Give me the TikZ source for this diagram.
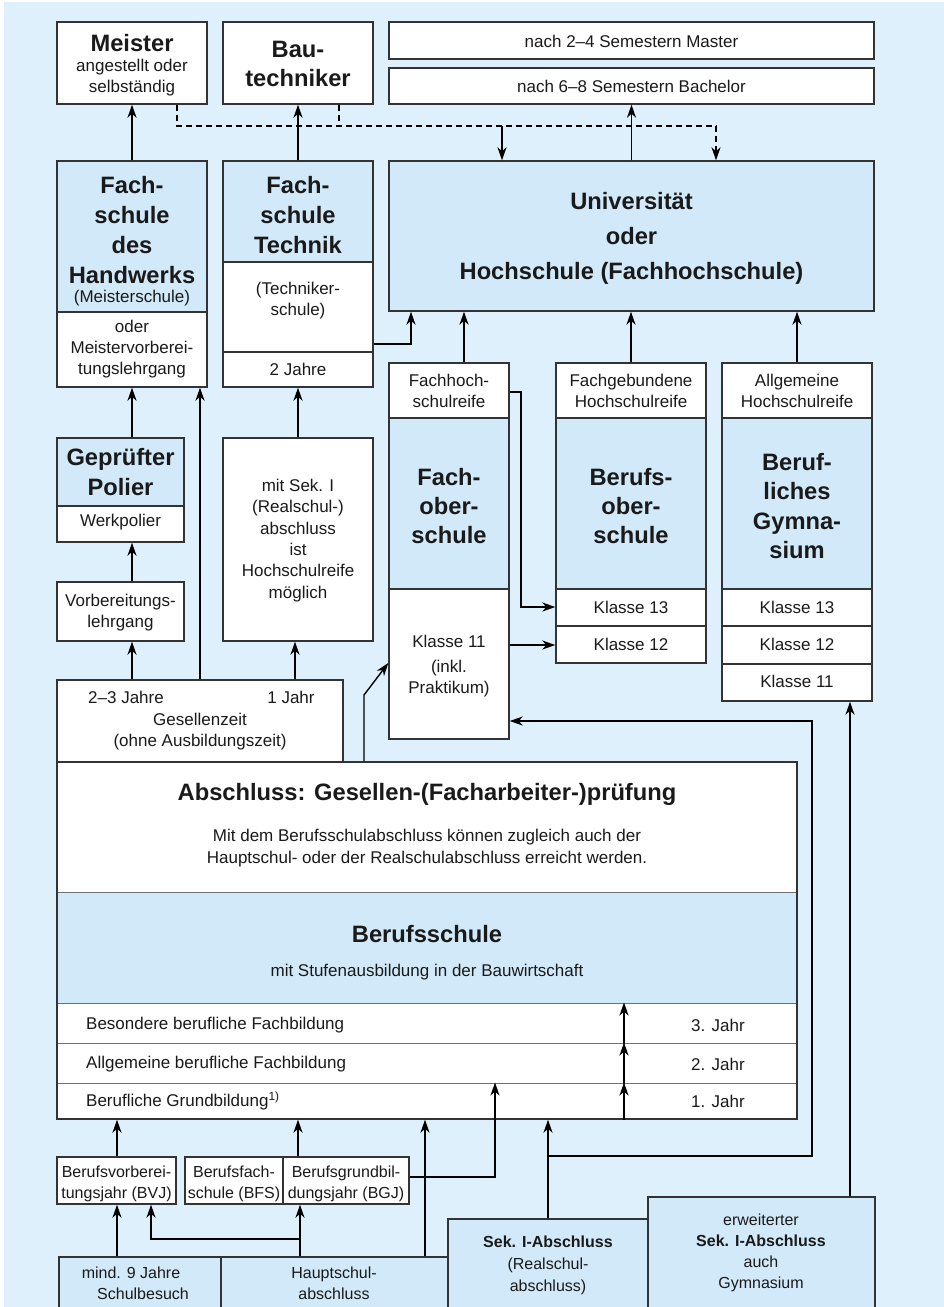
\documentclass[tikz,border=0pt]{standalone}
\usepackage{fontspec}
\setmainfont{Liberation Sans}
\usetikzlibrary{arrows.meta}
\definecolor{bgc}{HTML}{DEF0FC}
\definecolor{bluebox}{HTML}{D2E9F9}
\definecolor{bord}{HTML}{333333}
\definecolor{divc}{HTML}{707070}
\definecolor{txtc}{HTML}{1A1A1A}
\tikzset{
 wbox/.style={draw=bord, line width=1.4pt, fill=white, inner sep=0pt},
 bbox/.style={wbox, fill=bluebox},
 rowbox/.style={draw=divc, line width=1pt, fill=white, inner sep=0pt},
 rowblue/.style={rowbox, fill=bluebox},
 frame/.style={draw=bord, line width=1.4pt, inner sep=0pt},
 tbig/.style={align=center, inner sep=0pt, text=txtc, font=\fontsize{23.7}{29.7}\selectfont\bfseries},
 tsm/.style={align=center, inner sep=0pt, text=txtc, font=\fontsize{17}{21}\selectfont},
 tbot/.style={align=center, inner sep=0pt, text=txtc, font=\fontsize{16}{21.5}\selectfont},
 conn/.style={draw=black, line width=1.4pt},
 arr/.style={conn, -{Stealth[length=13pt,width=9pt,inset=4pt]}},
 dsh/.style={conn, line width=1.2pt, dash pattern=on 6pt off 4pt},
}
\newcommand\mkbox[6]{%
 \pgfmathsetmacro\mkW{#4-#2}\pgfmathsetmacro\mkH{#5-#3}%
 \pgfmathsetmacro\mkX{(#2+#4)/2}\pgfmathsetmacro\mkY{(#3+#5)/2}%
 \node[#6, minimum width=\mkW pt, minimum height=\mkH pt] (#1) at (\mkX,\mkY) {};}
\begin{document}
\begin{tikzpicture}[x=1pt,y=-1pt]
\useasboundingbox (0,0) rectangle (944,1307);
\fill[fill=bgc] (4,2) rectangle (944,1307);

% ---------- top row
\mkbox{meister}{57}{22}{207}{104}{wbox}
\node[tbig] (meisterT) at (132,43) {Meister};
\node[tsm] (meisterS) at (132,78) {angestellt oder\\selbständig};
\mkbox{bautech}{223}{22}{373}{104}{wbox}
\node[tbig] (bautechT) at (298,64) {Bau-\\techniker};
\mkbox{master}{389}{22}{874}{59}{wbox}
\node[tsm] (masterT) at (631.5,41) {nach 2–4 Semestern Master};
\mkbox{bachelor}{389}{68}{874}{104}{wbox}
\node[tsm] (bachelorT) at (631.5,86) {nach 6–8 Semestern Bachelor};

% ---------- second row
\mkbox{fshw}{57}{161}{207}{312}{bbox}
\node[tbig] (fshwT) at (132,230) {Fach-\\schule\\des\\Handwerks};
\node[tsm] (fshwS) at (132,298) {(Meisterschule)};
\mkbox{fshwB}{57}{312}{207}{387}{wbox}
\node[tsm] (fshwBT) at (132,349) {oder\\Meistervorberei-\\tungslehrgang};

\mkbox{fst}{223}{161}{373}{262}{bbox}
\node[tbig] (fstT) at (298,215) {Fach-\\schule\\Technik};
\mkbox{fstB}{223}{262}{373}{352}{wbox}
\node[tsm] (fstBT) at (298,301) {(Techniker-\\schule)};
\mkbox{fstC}{223}{352}{373}{387}{wbox}
\node[tsm] (fstCT) at (298,369) {2 Jahre};

\mkbox{uni}{389}{161}{874}{311}{bbox}
\node[tbig, font=\fontsize{23.7}{35}\selectfont\bfseries] (uniT) at (631.5,238) {Universität\\oder\\Hochschule (Fachhochschule)};

% ---------- left middle
\mkbox{polier}{57}{438}{184}{506}{bbox}
\node[tbig] (polierT) at (120.5,472) {Geprüfter\\Polier};
\mkbox{werk}{57}{506}{184}{542}{wbox}
\node[tsm] (werkT) at (120.5,522) {Werkpolier};
\mkbox{vorb}{57}{582}{184}{641}{wbox}
\node[tsm] (vorbT) at (120.5,612.5) {Vorbereitungs-\\lehrgang};
\mkbox{seki}{223}{438}{373}{641}{wbox}
\node[tsm, font=\fontsize{17}{21.3}\selectfont] (sekiT) at (298,540.5) {mit Sek. I\\(Realschul-)\\abschluss\\ist\\Hochschulreife\\möglich};
\mkbox{gesellen}{57}{680}{343}{762}{wbox}
\node[tsm] (g1) at (126,697) {2–3 Jahre};
\node[tsm] (g2) at (291,697) {1 Jahr};
\node[tsm] (g3) at (200,732) {Gesellenzeit\\(ohne Ausbildungszeit)};

% ---------- columns
\mkbox{fosA}{389}{363}{509}{418}{wbox}
\node[tsm] (fosAT) at (449,391) {Fachhoch-\\schulreife};
\mkbox{fosB}{389}{418}{509}{589}{bbox}
\node[tbig, font=\fontsize{23.7}{29}\selectfont\bfseries] (fosBT) at (449,506) {Fach-\\ober-\\schule};
\mkbox{fosC}{389}{589}{509}{739}{wbox}
\node[tsm] (fosC1) at (449,641) {Klasse 11};
\node[tsm] (fosC2) at (449,678.5) {(inkl.\\Praktikum)};

\mkbox{bosA}{556}{363}{706}{418}{wbox}
\node[tsm] (bosAT) at (631,391) {Fachgebundene\\Hochschulreife};
\mkbox{bosB}{556}{418}{706}{589}{bbox}
\node[tbig, font=\fontsize{23.7}{29}\selectfont\bfseries] (bosBT) at (631,506) {Berufs-\\ober-\\schule};
\mkbox{bos13}{556}{589}{706}{626}{wbox}
\node[tsm] (bos13T) at (631,607) {Klasse 13};
\mkbox{bos12}{556}{626}{706}{663}{wbox}
\node[tsm] (bos12T) at (631,644) {Klasse 12};

\mkbox{gymA}{722}{363}{872}{418}{wbox}
\node[tsm] (gymAT) at (797,391) {Allgemeine\\Hochschulreife};
\mkbox{gymB}{722}{418}{872}{589}{bbox}
\node[tbig, font=\fontsize{23.7}{29.3}\selectfont\bfseries] (gymBT) at (797,506) {Beruf-\\liches\\Gymna-\\sium};
\mkbox{gym13}{722}{589}{872}{626}{wbox}
\node[tsm] (gym13T) at (797,607) {Klasse 13};
\mkbox{gym12}{722}{626}{872}{664}{wbox}
\node[tsm] (gym12T) at (797,644) {Klasse 12};
\mkbox{gym11}{722}{664}{872}{701}{wbox}
\node[tsm] (gym11T) at (797,681) {Klasse 11};

% ---------- Abschluss / Berufsschule
\mkbox{absA}{57}{762}{797}{892}{rowbox}
\mkbox{absB}{57}{892}{797}{1003}{rowblue}
\mkbox{row3}{57}{1003}{797}{1043}{rowbox}
\mkbox{row2}{57}{1043}{797}{1083}{rowbox}
\mkbox{row1}{57}{1083}{797}{1119}{rowbox}
\mkbox{absframe}{57}{762}{797}{1119}{frame}
\node[tbig] (absT) at (427,794) {Abschluss: Gesellen-(Facharbeiter-)prüfung};
\node[tsm, font=\fontsize{17}{22}\selectfont] (absS) at (427,848) {Mit dem Berufsschulabschluss können zugleich auch der\\Hauptschul- oder der Realschulabschluss erreicht werden.};
\node[tbig] (bsT) at (427,934) {Berufsschule};
\node[tsm] (bsS) at (427,972) {mit Stufenausbildung in der Bauwirtschaft};
\node[tsm, anchor=west] (r3T) at (86,1025) {Besondere berufliche Fachbildung};
\node[tsm] (r3J) at (718,1025) {3. Jahr};
\node[tsm, anchor=west] (r2T) at (86,1064) {Allgemeine berufliche Fachbildung};
\node[tsm] (r2J) at (718,1064) {2. Jahr};
\node[tsm, anchor=west] (r1T) at (86,1101) {Berufliche Grundbildung\textsuperscript{1)}};
\node[tsm] (r1J) at (718,1101) {1. Jahr};

% ---------- lower small boxes
\mkbox{bvj}{57}{1157}{176}{1204}{wbox}
\node[tbot] (bvjT) at (116.5,1184) {Berufsvorberei-\\tungsjahr (BVJ)};
\mkbox{bfs}{185}{1157}{283}{1204}{wbox}
\node[tbot] (bfsT) at (234,1184) {Berufsfach-\\schule (BFS)};
\mkbox{bgj}{283}{1157}{409}{1204}{wbox}
\node[tbot] (bgjT) at (346,1184) {Berufsgrundbil-\\dungsjahr (BGJ)};

% ---------- bottom blue boxes
\mkbox{mind}{59}{1257}{221}{1330}{bbox}
\node[tbot] (mind1) at (131,1273) {mind. 9 Jahre};
\node[tbot] (mind2) at (143,1294) {Schulbesuch};
\mkbox{haupt}{221}{1257}{448}{1330}{bbox}
\node[tbot] (hauptT) at (334,1283.5) {Hauptschul-\\abschluss};
\mkbox{seki1}{448}{1219}{648}{1330}{bbox}
\node[tbot, font=\fontsize{16}{22}\selectfont] (seki1T) at (548,1265) {\textbf{Sek. I-Abschluss}\\(Realschul-\\abschluss)};
\mkbox{erw}{648}{1197}{875}{1330}{bbox}
\node[tbot, font=\fontsize{16}{21}\selectfont] (erwT) at (761,1252.5) {erweiterter\\\textbf{Sek. I-Abschluss}\\auch\\Gymnasium};

% ---------- connectors top
\draw[arr] (fshw.north) -- (meister.south);
\draw[arr] (fst.north) -- (bautech.south);
\draw[arr] (uni.north) -- (bachelor.south);
\coordinate (dl) at (177,126);
\coordinate (dm) at (339,126);
\coordinate (ds) at (502,126);
\coordinate (dr) at (716,126);
\draw[dsh] (meister.south -| dl) -- (dl) -- (dr);
\draw[dsh] (bautech.south -| dm) -- (dm);
\draw[dsh, -{Stealth[length=13pt,width=9pt,inset=4pt]}] (dr) -- (uni.north -| dr);
\draw[arr] (ds) -- (uni.north -| ds);

% ---------- connectors left
\draw[arr] (polier.north -| fshwB.south) -- (fshwB.south);
\draw[arr] (vorb.north -| fshwB.south) -- (werk.south -| fshwB.south);
\draw[arr] (gesellen.north -| fshwB.south) -- (vorb.south -| fshwB.south);
\coordinate (gx) at (200,0);
\draw[arr] (gesellen.north -| gx) -- (fshwB.south -| gx);
\draw[arr] (seki.north) -- (fstC.south);
\coordinate (gx2) at (295,0);
\draw[arr] (gesellen.north -| gx2) -- (seki.south -| gx2);
\coordinate (tx) at (411,344);
\draw[arr] (fstB.east |- tx) -- (tx) -- (uni.south -| tx);

% ---------- connectors columns
\coordinate (fx) at (464,0);
\draw[arr] (fosA.north -| fx) -- (uni.south -| fx);
\draw[arr] (bosA.north) -- (uni.south -| bosA.north);
\draw[arr] (gymA.north) -- (uni.south -| gymA.north);
\coordinate (h1) at (521,392);
\coordinate (h2) at (521,607);
\draw[arr] (fosA.east |- h1) -- (h1) -- (h2) -- (bos13.west |- h2);
\coordinate (k11) at (509,645);
\draw[arr] (fosC.east |- k11) -- (bos12.west |- k11);
\coordinate (e1) at (364,695);
\coordinate (e2) at (389,663);
\draw[arr] (absframe.north -| e1) -- (e1) -- (fosC.west |- e2);

% ---------- connectors lower
\coordinate (s1) at (548,1156);
\coordinate (s2) at (812,1156);
\coordinate (s3) at (812,721);
\draw[arr] (seki1.north) -- (absframe.south -| seki1.north);
\draw[arr] (s1) -- (s2) -- (s3) -- (fosC.east |- s3);
\coordinate (gx3) at (850,0);
\draw[arr] (erw.north -| gx3) -- (gym11.south -| gx3);
\coordinate (rx) at (624,0);
\draw[arr] (row1.south -| rx) -- (row1.north -| rx);
\draw[arr] (row2.south -| rx) -- (row2.north -| rx);
\draw[arr] (row3.south -| rx) -- (row3.north -| rx);
\coordinate (bx1) at (117,0);
\draw[arr] (bvj.north -| bx1) -- (absframe.south -| bx1);
\coordinate (bx2) at (298,0);
\draw[arr] (bgj.north -| bx2) -- (absframe.south -| bx2);
\coordinate (b3) at (495,1177);
\draw[arr] (bgj.east |- b3) -- (b3) -- (row1.north -| b3);
\draw[arr] (mind.north -| bx1) -- (bvj.south -| bx1);
\coordinate (hx) at (300,1239);
\coordinate (hb) at (151,1239);
\draw[arr] (haupt.north -| hx) -- (bgj.south -| hx);
\draw[arr] (hx) -- (hb) -- (bvj.south -| hb);
\coordinate (hx2) at (425,0);
\draw[arr] (haupt.north -| hx2) -- (absframe.south -| hx2);
\end{tikzpicture}
\end{document}
